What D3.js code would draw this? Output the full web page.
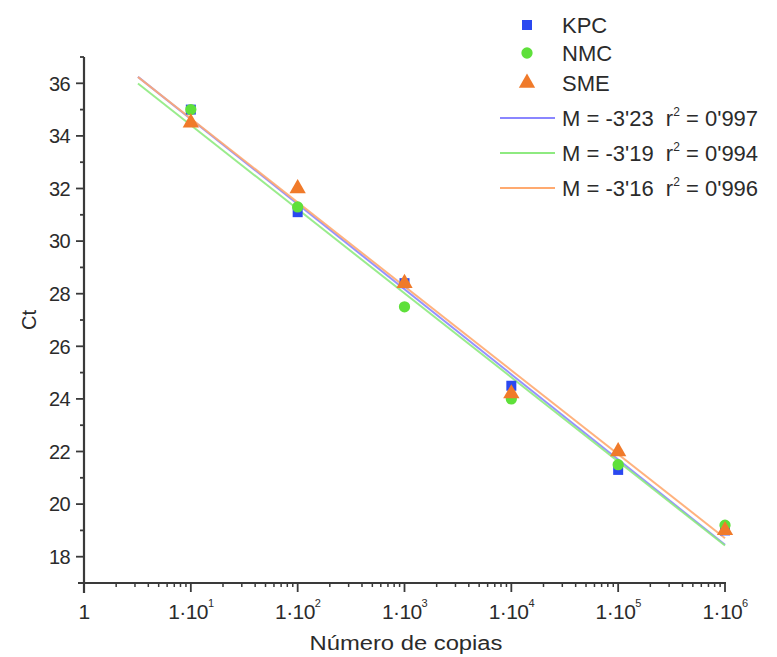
<!DOCTYPE html>
<html>
<head>
<meta charset="utf-8">
<script src="https://cdn.jsdelivr.net/npm/d3@7"></script>
<style>
  html, body { margin: 0; padding: 0; background: #fff; }
  svg { display: block; font-family: "Liberation Sans", Arial, Helvetica, sans-serif; }
</style>
</head>
<body>
<svg id="chart" width="777" height="657"></svg>
<script>
// ---- data ----
const copies = [1e1, 1e2, 1e3, 1e4, 1e5, 1e6];
const seriesNames = ["KPC", "NMC", "SME"];
const kpcCt = [35.0, 31.1, 28.4, 24.5, 21.3, 19.0];
const nmcCt = [35.0, 31.3, 27.5, 24.0, 21.5, 19.2];
const smeCt = [34.5, 32.0, 28.4, 24.2, 22.0, 19.0];
const fitLabels = ["-3'23", "-3'19", "-3'16"];
const r2Labels = ["0'997", "0'994", "0'996"];
const fitStart = 3.2;      // first x of the fitted lines
const fitEnd = 1e6;
const yTicks = [18, 20, 22, 24, 26, 28, 30, 32, 34, 36];
const xTickExps = [0, 1, 2, 3, 4, 5, 6];

// ---- styles ----
const markerColors = ["#2a48f0", "#5ee03a", "#f07a2a"];
const lineColors = ["#8a86ff", "#8eea80", "#ffaa70"];
const textColor = "#2b2b2b";
const axisColor = "#3a3a3a";

const svg = d3.select("#chart");
const x = d3.scaleLog().domain([1, 1e6]).range([84, 725]);
const y = d3.scaleLinear().domain([17, 37]).range([583, 57]);

const allCt = [kpcCt, nmcCt, smeCt];

// least-squares fit Ct vs log10(copies)
function fit(vals) {
  const lx = copies.map(c => Math.log10(c));
  const mx = d3.mean(lx), my = d3.mean(vals);
  let sxy = 0, sxx = 0;
  lx.forEach((v, i) => { sxy += (v - mx) * (vals[i] - my); sxx += (v - mx) * (v - mx); });
  const m = sxy / sxx;
  return { m, b: my - m * mx };
}

// fitted lines
allCt.forEach((vals, i) => {
  const f = fit(vals);
  const pts = [fitStart, fitEnd].map(c => [c, f.b + f.m * Math.log10(c)]);
  svg.append("path")
    .attr("d", d3.line().x(d => x(d[0])).y(d => y(d[1]))(pts))
    .attr("stroke", lineColors[i])
    .attr("stroke-width", 2)
    .attr("fill", "none")
    .attr("opacity", 0.9);
});

// markers
const symbols = [d3.symbolSquare, d3.symbolCircle, d3.symbolTriangle];
const symSizes = [100, 100, 115];
allCt.forEach((vals, i) => {
  svg.append("g").selectAll("path")
    .data(vals.map((v, j) => [copies[j], v]))
    .join("path")
    .attr("transform", d => `translate(${x(d[0])},${y(d[1])})`)
    .attr("d", d3.symbol().type(symbols[i]).size(symSizes[i]))
    .attr("fill", markerColors[i]);
});

// ---- axes ----
// y axis
const yAxis = svg.append("g");
yAxis.append("line").attr("x1", 84).attr("x2", 84).attr("y1", y(37)).attr("y2", y(17) + 10)
  .attr("stroke", axisColor).attr("stroke-width", 2.2);
d3.range(17, 38, 1).forEach(v => {
  const major = yTicks.includes(v);
  yAxis.append("line").attr("x1", major ? 76 : 80).attr("x2", 84)
    .attr("y1", y(v)).attr("y2", y(v))
    .attr("stroke", axisColor).attr("stroke-width", 1.8);
});
yAxis.selectAll("text").data(yTicks).join("text")
  .attr("x", 70).attr("y", d => y(d)).attr("dy", "0.36em")
  .attr("text-anchor", "end").attr("font-size", 20).attr("fill", textColor)
  .attr("letter-spacing", "-0.6")
  .text(d => d);

// x axis
const xAxis = svg.append("g");
xAxis.append("line").attr("x1", 78).attr("x2", x(1e6) + 1).attr("y1", 583).attr("y2", 583)
  .attr("stroke", axisColor).attr("stroke-width", 2.2);
xTickExps.forEach(e => {
  const base = Math.pow(10, e);
  xAxis.append("line").attr("x1", x(base)).attr("x2", x(base)).attr("y1", 583).attr("y2", 592)
    .attr("stroke", axisColor).attr("stroke-width", 1.8);
  if (e < 6) {
    d3.range(2, 10).forEach(k => {
      xAxis.append("line").attr("x1", x(base * k)).attr("x2", x(base * k)).attr("y1", 583).attr("y2", 587)
        .attr("stroke", axisColor).attr("stroke-width", 1.5);
    });
  }
  const t = xAxis.append("text").attr("x", x(base)).attr("y", 619)
    .attr("text-anchor", "middle").attr("font-size", 21).attr("fill", textColor)
    .attr("letter-spacing", "-0.6");
  if (e === 0) {
    t.text("1");
  } else {
    t.append("tspan").text("1·10");
    t.append("tspan").attr("font-size", 11).attr("dy", -12).text(e);
  }
});

// axis titles
svg.append("text").attr("x", 406).attr("y", 650).attr("text-anchor", "middle")
  .attr("font-size", 20).attr("fill", textColor)
  .attr("textLength", 193).attr("lengthAdjust", "spacingAndGlyphs")
  .text("Número de copias");
svg.append("text").attr("transform", "translate(36,320) rotate(-90)")
  .attr("text-anchor", "middle").attr("font-size", 20).attr("fill", textColor)
  .text("Ct");

// ---- legend ----
const leg = svg.append("g");
const legY = [25, 53, 83];
seriesNames.forEach((n, i) => {
  leg.append("path")
    .attr("transform", `translate(527,${legY[i]})`)
    .attr("d", d3.symbol().type(symbols[i]).size(symSizes[i]))
    .attr("fill", markerColors[i]);
  leg.append("text").attr("x", 562).attr("y", legY[i]).attr("dy", "0.36em")
    .attr("font-size", 22).attr("fill", textColor).text(n);
});
const lineLegY = [118, 153, 188];
fitLabels.forEach((m, i) => {
  leg.append("line").attr("x1", 500).attr("x2", 555).attr("y1", lineLegY[i]).attr("y2", lineLegY[i])
    .attr("stroke", lineColors[i]).attr("stroke-width", 2);
  const t = leg.append("text").attr("x", 562).attr("y", lineLegY[i]).attr("dy", "0.36em")
    .attr("font-size", 22).attr("fill", textColor);
  t.append("tspan").text(`M = ${m}\u00a0\u00a0r`);
  t.append("tspan").attr("font-size", 12).attr("dy", -10).text("2");
  t.append("tspan").attr("dy", 10).text(` = ${r2Labels[i]}`);
});
</script>
</body>
</html>
